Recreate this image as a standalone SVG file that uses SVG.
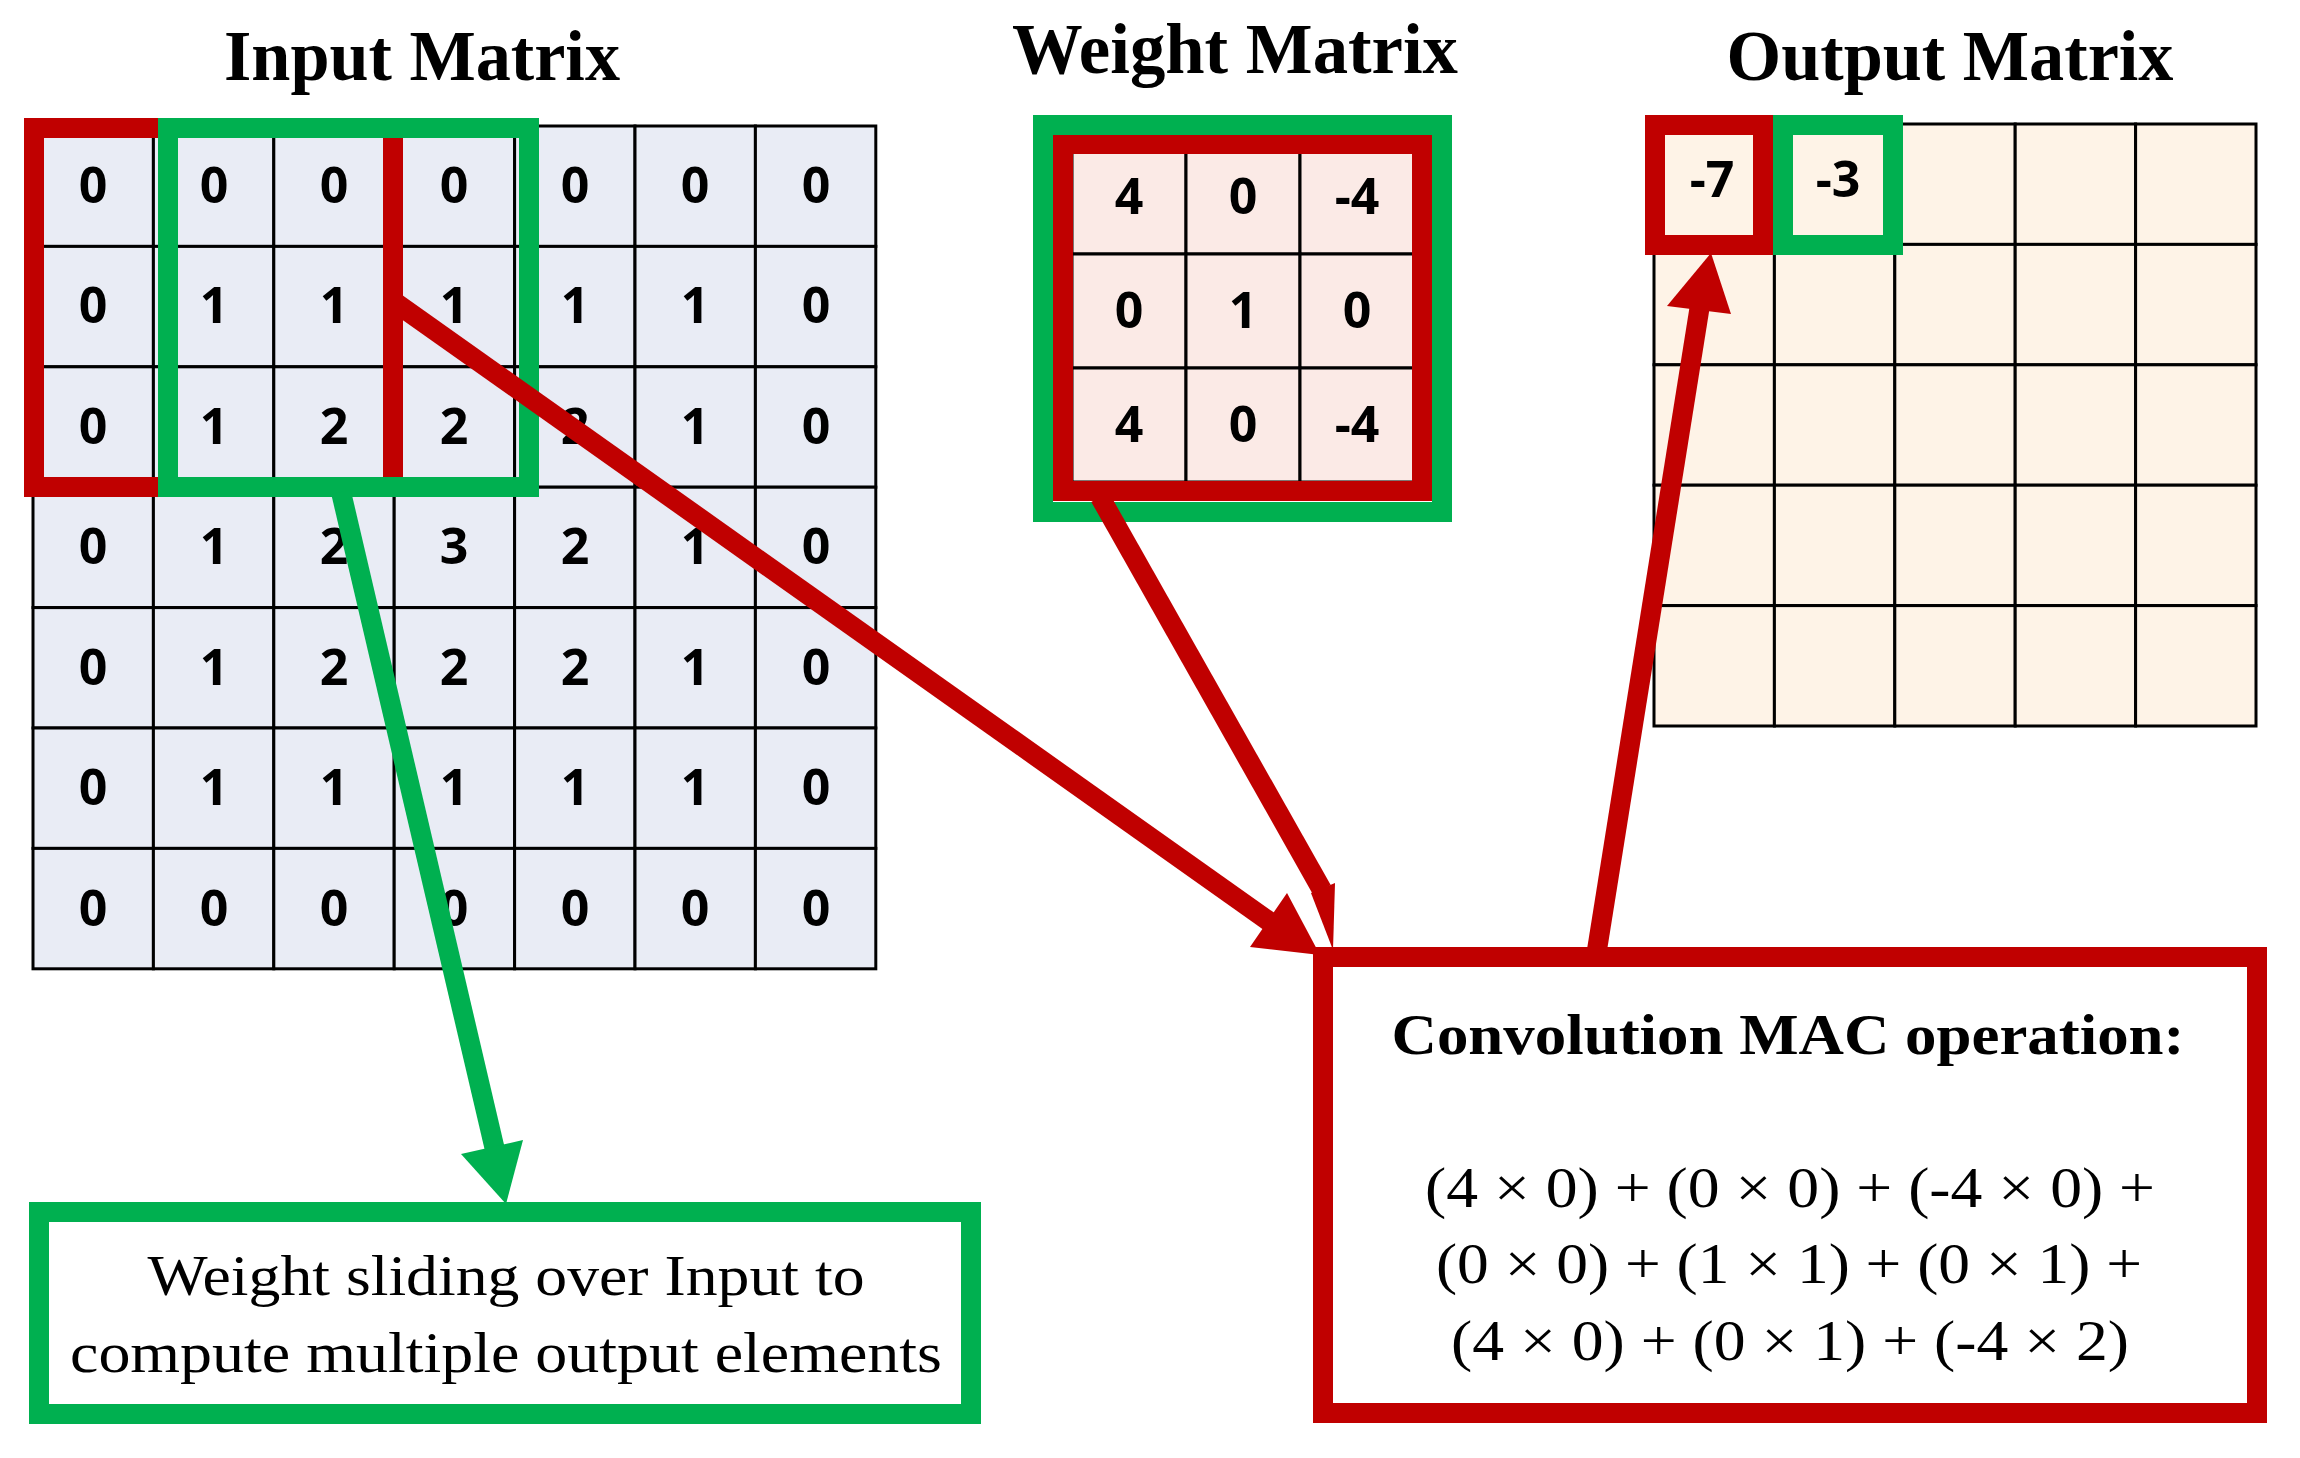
<svg xmlns="http://www.w3.org/2000/svg" width="2300" height="1458" viewBox="0 0 2300 1458">
<style>
.title{font-family:"Liberation Serif",serif;font-weight:bold;font-size:72px;text-anchor:middle;fill:#000}
.d{font-family:"Open Sans","Liberation Sans",sans-serif;font-weight:bold;font-size:50px;text-anchor:middle;fill:#000}
.ci{fill:#E9ECF5;stroke:#000;stroke-width:3}
.cw{fill:#FBEAE6;stroke:#000;stroke-width:3}
.co{fill:#FEF3E7;stroke:#000;stroke-width:3}
.rb{fill:none;stroke:#C00000;stroke-width:20}
.gb{fill:none;stroke:#00B050;stroke-width:20}
.t{font-family:"Liberation Serif",serif;font-size:58px;text-anchor:middle;fill:#000}
</style>
<defs>
<rect id="ci" class="ci" width="120.4" height="120.4"/>
<rect id="cw" class="cw" width="114" height="114"/>
<rect id="co" class="co" width="120.4" height="120.4"/>
</defs>

<g id="title-input"><text class="title" x="422" y="80" textLength="396" lengthAdjust="spacingAndGlyphs">Input Matrix</text></g>
<g id="title-weight"><text class="title" x="1235" y="73" textLength="446" lengthAdjust="spacingAndGlyphs">Weight Matrix</text></g>
<g id="title-output"><text class="title" x="1950" y="80" textLength="447" lengthAdjust="spacingAndGlyphs">Output Matrix</text></g>

<g id="input-matrix">
<g>
<use href="#ci" x="33" y="126"/><use href="#ci" x="153.4" y="126"/><use href="#ci" x="273.8" y="126"/><use href="#ci" x="394.2" y="126"/><use href="#ci" x="514.6" y="126"/><use href="#ci" x="635" y="126"/><use href="#ci" x="755.4" y="126"/>
<use href="#ci" x="33" y="246.4"/><use href="#ci" x="153.4" y="246.4"/><use href="#ci" x="273.8" y="246.4"/><use href="#ci" x="394.2" y="246.4"/><use href="#ci" x="514.6" y="246.4"/><use href="#ci" x="635" y="246.4"/><use href="#ci" x="755.4" y="246.4"/>
<use href="#ci" x="33" y="366.8"/><use href="#ci" x="153.4" y="366.8"/><use href="#ci" x="273.8" y="366.8"/><use href="#ci" x="394.2" y="366.8"/><use href="#ci" x="514.6" y="366.8"/><use href="#ci" x="635" y="366.8"/><use href="#ci" x="755.4" y="366.8"/>
<use href="#ci" x="33" y="487.2"/><use href="#ci" x="153.4" y="487.2"/><use href="#ci" x="273.8" y="487.2"/><use href="#ci" x="394.2" y="487.2"/><use href="#ci" x="514.6" y="487.2"/><use href="#ci" x="635" y="487.2"/><use href="#ci" x="755.4" y="487.2"/>
<use href="#ci" x="33" y="607.6"/><use href="#ci" x="153.4" y="607.6"/><use href="#ci" x="273.8" y="607.6"/><use href="#ci" x="394.2" y="607.6"/><use href="#ci" x="514.6" y="607.6"/><use href="#ci" x="635" y="607.6"/><use href="#ci" x="755.4" y="607.6"/>
<use href="#ci" x="33" y="728"/><use href="#ci" x="153.4" y="728"/><use href="#ci" x="273.8" y="728"/><use href="#ci" x="394.2" y="728"/><use href="#ci" x="514.6" y="728"/><use href="#ci" x="635" y="728"/><use href="#ci" x="755.4" y="728"/>
<use href="#ci" x="33" y="848.4"/><use href="#ci" x="153.4" y="848.4"/><use href="#ci" x="273.8" y="848.4"/><use href="#ci" x="394.2" y="848.4"/><use href="#ci" x="514.6" y="848.4"/><use href="#ci" x="635" y="848.4"/><use href="#ci" x="755.4" y="848.4"/>
</g>
<g>
<text class="d" x="93" y="203">0</text><text class="d" x="214" y="203">0</text><text class="d" x="334" y="203">0</text><text class="d" x="454" y="203">0</text><text class="d" x="575" y="203">0</text><text class="d" x="695" y="203">0</text><text class="d" x="816" y="203">0</text>
<text class="d" x="93" y="323">0</text><text class="d" x="214" y="323">1</text><text class="d" x="334" y="323">1</text><text class="d" x="454" y="323">1</text><text class="d" x="575" y="323">1</text><text class="d" x="695" y="323">1</text><text class="d" x="816" y="323">0</text>
<text class="d" x="93" y="444">0</text><text class="d" x="214" y="444">1</text><text class="d" x="334" y="444">2</text><text class="d" x="454" y="444">2</text><text class="d" x="575" y="444">2</text><text class="d" x="695" y="444">1</text><text class="d" x="816" y="444">0</text>
<text class="d" x="93" y="564">0</text><text class="d" x="214" y="564">1</text><text class="d" x="334" y="564">2</text><text class="d" x="454" y="564">3</text><text class="d" x="575" y="564">2</text><text class="d" x="695" y="564">1</text><text class="d" x="816" y="564">0</text>
<text class="d" x="93" y="685">0</text><text class="d" x="214" y="685">1</text><text class="d" x="334" y="685">2</text><text class="d" x="454" y="685">2</text><text class="d" x="575" y="685">2</text><text class="d" x="695" y="685">1</text><text class="d" x="816" y="685">0</text>
<text class="d" x="93" y="805">0</text><text class="d" x="214" y="805">1</text><text class="d" x="334" y="805">1</text><text class="d" x="454" y="805">1</text><text class="d" x="575" y="805">1</text><text class="d" x="695" y="805">1</text><text class="d" x="816" y="805">0</text>
<text class="d" x="93" y="926">0</text><text class="d" x="214" y="926">0</text><text class="d" x="334" y="926">0</text><text class="d" x="454" y="926">0</text><text class="d" x="575" y="926">0</text><text class="d" x="695" y="926">0</text><text class="d" x="816" y="926">0</text>
</g>
<rect class="rb" x="34" y="128" width="359" height="359"/>
<rect class="gb" x="168" y="128" width="361" height="359"/>
</g>

<g id="weight-matrix">
<use href="#cw" x="1072" y="140"/><use href="#cw" x="1186" y="140"/><use href="#cw" x="1300" y="140"/>
<use href="#cw" x="1072" y="254"/><use href="#cw" x="1186" y="254"/><use href="#cw" x="1300" y="254"/>
<use href="#cw" x="1072" y="368"/><use href="#cw" x="1186" y="368"/><use href="#cw" x="1300" y="368"/>
<text class="d" x="1129" y="214">4</text><text class="d" x="1243" y="214">0</text><text class="d" x="1357" y="214">-4</text>
<text class="d" x="1129" y="328">0</text><text class="d" x="1243" y="328">1</text><text class="d" x="1357" y="328">0</text>
<text class="d" x="1129" y="442">4</text><text class="d" x="1243" y="442">0</text><text class="d" x="1357" y="442">-4</text>
<rect class="rb" x="1063" y="144" width="359" height="347"/>
<rect class="gb" x="1043" y="125" width="399" height="387"/>
</g>

<g id="output-matrix">
<use href="#co" x="1654" y="124"/><use href="#co" x="1774.4" y="124"/><use href="#co" x="1894.8" y="124"/><use href="#co" x="2015.2" y="124"/><use href="#co" x="2135.6" y="124"/>
<use href="#co" x="1654" y="244.4"/><use href="#co" x="1774.4" y="244.4"/><use href="#co" x="1894.8" y="244.4"/><use href="#co" x="2015.2" y="244.4"/><use href="#co" x="2135.6" y="244.4"/>
<use href="#co" x="1654" y="364.8"/><use href="#co" x="1774.4" y="364.8"/><use href="#co" x="1894.8" y="364.8"/><use href="#co" x="2015.2" y="364.8"/><use href="#co" x="2135.6" y="364.8"/>
<use href="#co" x="1654" y="485.2"/><use href="#co" x="1774.4" y="485.2"/><use href="#co" x="1894.8" y="485.2"/><use href="#co" x="2015.2" y="485.2"/><use href="#co" x="2135.6" y="485.2"/>
<use href="#co" x="1654" y="605.6"/><use href="#co" x="1774.4" y="605.6"/><use href="#co" x="1894.8" y="605.6"/><use href="#co" x="2015.2" y="605.6"/><use href="#co" x="2135.6" y="605.6"/>
<rect class="rb" x="1655" y="125" width="108" height="120"/>
<rect class="gb" x="1783" y="125" width="110" height="120"/>
<text class="d" x="1712" y="197">-7</text>
<text class="d" x="1838" y="197">-3</text>
</g>

<g id="connectors">
<line x1="168" y1="497" x2="498" y2="1150" stroke="none"/>
<line x1="341" y1="492" x2="495" y2="1150" stroke="#00B050" stroke-width="20"/>
<polygon points="461,1154 523,1140 506,1204" fill="#00B050"/>
<line x1="396" y1="303" x2="1270" y2="922" stroke="#C00000" stroke-width="20"/>
<polygon points="1250,947 1287,893 1320,955" fill="#C00000"/>
<line x1="1100" y1="497" x2="1322" y2="890" stroke="#C00000" stroke-width="20"/>
<polygon points="1311,893 1335,883 1333,950" fill="#C00000"/>
<line x1="1597" y1="950" x2="1700" y2="305" stroke="#C00000" stroke-width="20"/>
<polygon points="1667,306 1731,314 1711,253" fill="#C00000"/>
</g>

<g id="sliding-note">
<rect x="39" y="1212" width="932" height="202" fill="#fff" stroke="#00B050" stroke-width="20"/>
<text class="t" x="506" y="1295" textLength="717" lengthAdjust="spacingAndGlyphs">Weight sliding over Input to</text>
<text class="t" x="506" y="1372" textLength="872" lengthAdjust="spacingAndGlyphs">compute multiple output elements</text>
</g>

<g id="mac-operation">
<rect x="1323" y="957" width="934" height="456" fill="#fff" stroke="#C00000" stroke-width="20"/>
<text class="t" x="1788" y="1054" font-weight="bold" font-size="62" textLength="793" lengthAdjust="spacingAndGlyphs">Convolution MAC operation:</text>
<text class="t" x="1790" y="1207" font-size="60" textLength="730" lengthAdjust="spacingAndGlyphs">(4 × 0) + (0 × 0) + (-4 × 0) +</text>
<text class="t" x="1789" y="1283" font-size="60" textLength="706" lengthAdjust="spacingAndGlyphs">(0 × 0) + (1 × 1) + (0 × 1) +</text>
<text class="t" x="1790" y="1360" font-size="60" textLength="678" lengthAdjust="spacingAndGlyphs">(4 × 0) + (0 × 1) + (-4 × 2)</text>
</g>
</svg>
